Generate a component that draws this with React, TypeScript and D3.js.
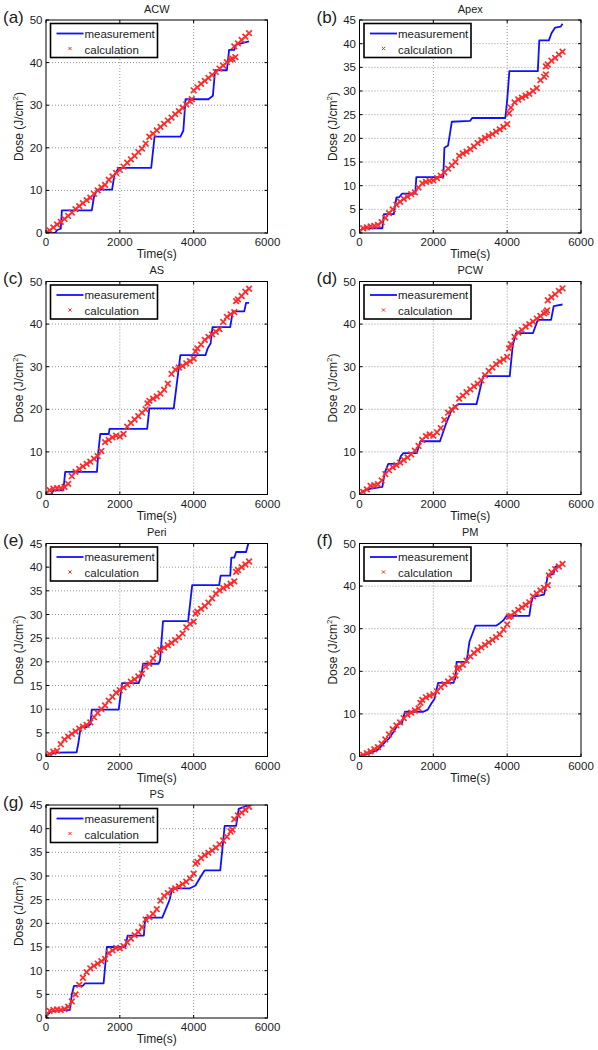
import React from "react";
import * as d3 from "d3";

// ---------- data ----------
const calcTimes = [0, 100, 200, 300, 400, 500, 600, 700, 800, 900, 1000, 1100, 1200, 1300, 1400, 1500, 1600, 1700, 1800, 1900, 2000, 2100, 2200, 2300, 2400, 2500, 2600, 2700, 2800, 2900, 3000, 3100, 3200, 3300, 3400, 3500, 3600, 3700, 3800, 3900, 4000, 4100, 4200, 4300, 4400, 4500, 4600, 4700, 4800, 4900, 5000, 5100, 5200, 5300, 5400, 5500];

const xTicks = [0, 2000, 4000, 6000];
const yTicks50 = [0, 10, 20, 30, 40, 50];
const yTicks45 = [0, 5, 10, 15, 20, 25, 30, 35, 40, 45];

// (a) ACW
const measA = [[0, 0], [250, 0], [300, 0.7], [400, 1], [430, 5.3], [1240, 5.3], [1300, 8.5], [1380, 10.2], [1790, 10.2], [1850, 13.5], [1970, 15.3], [2850, 15.3], [2940, 22.6], [3640, 22.6], [3720, 24], [3780, 31.4], [4400, 31.4], [4520, 32.2], [4580, 38.2], [4900, 38.2], [4960, 43], [5100, 43], [5150, 44.2], [5500, 45]];
const calcA = [0, 0.6, 1.3, 2.0, 2.6, 3.3, 4.0, 4.8, 5.6, 6.3, 7.0, 7.7, 8.3, 9.2, 10.0, 10.7, 11.3, 12.5, 13.3, 14.1, 14.8, 15.6, 16.5, 17.3, 18.1, 19.0, 19.8, 21.0, 22.6, 23.3, 24.1, 24.9, 25.6, 26.4, 27.1, 27.9, 28.6, 29.4, 30.2, 30.9, 33.5, 34.2, 35.0, 35.7, 36.4, 37.1, 37.8, 38.6, 39.3, 40.1, 40.7, 43.8, 44.5, 45.3, 46.1, 46.9];
const extraA = [[3950, 31.4], [5050, 40.9], [5130, 41.3]];

// (b) Apex
const measB = [[0, 0.3], [100, 1], [620, 1], [660, 4], [930, 4], [1000, 7.5], [1080, 7.6], [1150, 8.3], [1510, 8.3], [1540, 11.8], [2270, 11.8], [2300, 18], [2400, 18.5], [2500, 23.5], [3000, 23.7], [3050, 24.3], [3950, 24.3], [4000, 28], [4060, 34.2], [4830, 34.2], [4870, 40.7], [5130, 40.7], [5200, 42.2], [5300, 43.4], [5450, 43.6], [5500, 44.2]];
const calcB = [0.3, 1.0, 1.2, 1.4, 1.5, 1.7, 2.3, 3.2, 4.2, 5.0, 6.0, 6.6, 7.2, 7.7, 8.2, 8.6, 9.6, 10.5, 10.8, 11.0, 11.1, 11.6, 12.1, 12.8, 13.6, 14.3, 15.0, 16.3, 16.8, 17.2, 17.7, 18.3, 19.0, 19.6, 20.1, 20.5, 20.9, 21.4, 21.9, 22.4, 23.0, 26.5, 27.6, 28.2, 28.6, 29.0, 29.4, 30.0, 30.6, 32.3, 33.0, 35.6, 36.4, 37.0, 37.7, 38.3];
const extraB = [[4050, 25.3], [5050, 33.5], [5050, 35.2]];

// (c) AS
const measC = [[0, 0], [150, 0], [200, 1], [470, 1], [520, 5.3], [1380, 5.3], [1420, 10.2], [1470, 14.2], [1700, 14.2], [1720, 15.4], [2740, 15.4], [2800, 20.2], [3460, 20.2], [3640, 32.7], [4320, 32.7], [4380, 34.3], [4460, 35.5], [4510, 39.3], [4990, 39.3], [5060, 43], [5370, 43], [5420, 45], [5500, 45]];
const calcC = [0.3, 1.0, 1.4, 1.5, 1.5, 1.8, 2.5, 4.3, 5.3, 6.0, 6.6, 7.2, 7.7, 8.4, 9.0, 10.2, 12.3, 12.8, 13.4, 13.8, 13.6, 14.2, 15.9, 16.8, 17.6, 18.4, 19.2, 20.0, 22.0, 22.5, 23.0, 23.7, 24.6, 26.0, 28.3, 29.3, 29.8, 30.2, 30.8, 31.3, 31.9, 34.3, 35.2, 36.3, 37.0, 37.6, 38.2, 38.8, 40.5, 41.7, 42.3, 42.8, 45.8, 46.6, 47.6, 48.3];
const extraC = [[2750, 21.4], [4050, 33.6], [5150, 45.4]];

// (d) PCW
const measD = [[0, 0], [100, 0.8], [200, 1.2], [400, 1.5], [620, 1.8], [680, 5], [780, 7.2], [1050, 7.2], [1120, 9.0], [1190, 9.7], [1550, 9.7], [1650, 12.5], [2180, 12.5], [2360, 17], [2500, 20], [2670, 21.2], [3170, 21.2], [3350, 27.8], [4070, 27.8], [4150, 35], [4240, 37.9], [4700, 37.9], [4830, 41], [5190, 41], [5260, 44.2], [5500, 44.6]];
const calcD = [0, 0.6, 1.2, 2.0, 2.2, 2.4, 3.3, 4.8, 5.7, 6.4, 6.9, 7.5, 8.1, 8.7, 9.4, 10.3, 11.4, 12.8, 13.7, 14.1, 13.8, 14.6, 15.6, 17.5, 19.2, 19.9, 20.5, 22.5, 23.2, 24.0, 24.7, 25.4, 26.0, 26.8, 28.0, 29.0, 29.8, 30.6, 31.2, 31.7, 32.3, 35.3, 37.0, 38.0, 38.6, 39.4, 40.0, 40.6, 41.3, 41.9, 42.5, 45.6, 46.3, 47.0, 47.8, 48.4];
const extraD = [[4050, 34.3], [5050, 42.8], [5080, 43.2]];

// (e) Peri
const measE = [[0, 0.3], [300, 0.8], [830, 0.9], [880, 3], [940, 6.2], [1100, 6.2], [1200, 6.8], [1240, 9.9], [1970, 9.9], [2060, 15.5], [2510, 15.5], [2580, 17], [2630, 19.6], [3050, 19.6], [3090, 20.3], [3170, 28.6], [3850, 28.6], [3960, 36.2], [4690, 36.2], [4730, 38.2], [4990, 38.2], [5020, 42], [5100, 42], [5150, 43.2], [5420, 43.2], [5480, 45]];
const calcE = [0, 0.5, 1.0, 1.2, 2.6, 3.6, 4.2, 4.8, 5.3, 5.9, 6.3, 6.7, 7.2, 8.3, 9.2, 10.0, 10.8, 11.8, 12.6, 13.5, 14.0, 14.6, 15.2, 15.8, 16.3, 16.9, 17.5, 19.0, 19.6, 20.7, 22.0, 22.5, 23.0, 23.5, 24.0, 24.6, 25.2, 26.0, 27.3, 28.0, 28.5, 30.6, 31.2, 31.8, 32.5, 33.4, 34.4, 35.1, 35.6, 36.0, 36.5, 37.0, 39.4, 40.0, 40.6, 41.2];
const extraE = [[4050, 30.2], [5150, 39.0]];

// (f) PM
const measF = [[0, 0], [200, 0.5], [400, 1.2], [500, 1.6], [600, 2.5], [700, 3.5], [800, 4.2], [900, 5.5], [1050, 7.6], [1150, 7.8], [1230, 10.5], [1730, 10.5], [1850, 11], [1950, 12.5], [2030, 13.5], [2130, 17.3], [2550, 17.3], [2600, 18.5], [2630, 22.2], [2900, 22.2], [2980, 27], [3140, 30.7], [3700, 30.7], [3800, 31.3], [3900, 32], [3980, 33], [4600, 33], [4650, 36], [4700, 37.5], [4900, 37.8], [5000, 38], [5050, 40], [5100, 42.5], [5250, 42.8], [5300, 44.5], [5350, 44.8]];
const calcF = [0, 0.4, 0.8, 1.2, 1.7, 2.2, 3.0, 4.0, 5.2, 6.4, 7.3, 8.0, 9.0, 9.8, 10.3, 10.8, 11.3, 13.3, 13.9, 14.3, 14.6, 15.3, 16.3, 17.0, 17.6, 18.3, 19.0, 20.9, 21.5, 22.5, 23.5, 24.3, 25.0, 25.6, 26.2, 26.8, 27.4, 28.0, 28.7, 29.8, 31.0, 33.0, 33.7, 34.4, 35.0, 35.6, 36.2, 37.6, 38.3, 39.0, 39.6, 40.2, 43.3, 44.0, 44.6, 45.2];
const extraF = [[1650, 12.6], [2650, 20.6], [4050, 32.8], [5130, 42.5]];

// (g) PS
const measG = [[0, 0.3], [100, 1.2], [200, 1.5], [650, 1.7], [700, 5], [760, 6.8], [1000, 6.8], [1050, 7.3], [1560, 7.3], [1650, 15], [2150, 15], [2210, 17.4], [2650, 17.4], [2690, 21.2], [3150, 21.2], [3350, 25], [3420, 27.4], [3900, 27.4], [4050, 28], [4200, 30], [4300, 31.2], [4720, 31.2], [4840, 40.6], [5150, 40.6], [5220, 44.2], [5500, 45]];
const calcG = [0.3, 1.5, 1.7, 1.8, 1.7, 1.9, 2.4, 3.5, 5.0, 7.0, 8.5, 9.7, 10.5, 11.0, 11.5, 12.0, 12.5, 13.7, 14.3, 14.8, 14.7, 15.2, 16.0, 16.8, 17.5, 18.2, 19.2, 20.8, 21.3, 22.0, 23.0, 24.8, 25.8, 26.4, 27.0, 27.4, 27.8, 28.3, 28.8, 29.5, 30.5, 33.0, 33.8, 34.4, 34.9, 35.4, 36.0, 36.7, 37.5, 38.3, 39.4, 42.0, 42.8, 43.4, 44.0, 44.6];
const extraG = [[4050, 32.6], [5050, 39.8]];

const panelLabels = ["(a)", "(b)", "(c)", "(d)", "(e)", "(f)", "(g)"];
const panelTitles = ["ACW", "Apex", "AS", "PCW", "Peri", "PM", "PS"];
const panelYMax = [50, 45, 50, 50, 45, 50, 45];
const legendLabels = ["measurement", "calculation"];

const panels = [
  { meas: measA, calc: calcA, extra: extraA },
  { meas: measB, calc: calcB, extra: extraB },
  { meas: measC, calc: calcC, extra: extraC },
  { meas: measD, calc: calcD, extra: extraD },
  { meas: measE, calc: calcE, extra: extraE },
  { meas: measF, calc: calcF, extra: extraF },
  { meas: measG, calc: calcG, extra: extraG },
].map((p, i) => ({
  ...p,
  label: panelLabels[i],
  title: panelTitles[i],
  ymax: panelYMax[i],
  col: i % 2,
  row: Math.floor(i / 2),
}));

// ---------- layout ----------
const W = 598;
const H = 1050;
const colX = [46, 359.5];
const rowY = [20, 281.5, 543.5, 805];
const plotW = 221.5;
const plotH = 213;
const FONT = "'Liberation Sans', Arial, Helvetica, sans-serif";
const TXT = "#1c1c1c";
const BLUE = "#1010ff";
const RED = "#ff2a2a";

function Panel({ p, idx }: { p: any; idx: number }) {
  const x0 = colX[p.col];
  const y0 = rowY[p.row];
  const x = d3.scaleLinear().domain([0, 6000]).range([x0, x0 + plotW]);
  const y = d3.scaleLinear().domain([0, p.ymax]).range([y0 + plotH, y0]);
  const yTicks = p.ymax === 50 ? yTicks50 : yTicks45;
  const line = d3
    .line<number[]>()
    .x((d) => x(d[0]))
    .y((d) => y(d[1]));
  const calcPts: number[][] = calcTimes.map((t, i) => [t, p.calc[i]]).concat(p.extra);
  const clipId = `clip${idx}`;
  const ms = 2.8;
  const lgX = x0 + 4.5;
  const lgY = y0 + 3.5;
  return (
    <g>
      <defs>
        <clipPath id={clipId}>
          <rect x={x0} y={y0} width={plotW} height={plotH} />
        </clipPath>
      </defs>
      <rect x={x0} y={y0} width={plotW} height={plotH} fill="#fff" />
      {/* grid */}
      {xTicks.slice(1, -1).map((t) => (
        <line key={"gx" + t} x1={x(t)} x2={x(t)} y1={y0} y2={y0 + plotH} stroke="#8a8a8a" strokeWidth={0.9} strokeDasharray="1,2" />
      ))}
      {yTicks.slice(1, -1).map((t) => (
        <line key={"gy" + t} x1={x0} x2={x0 + plotW} y1={y(t)} y2={y(t)} stroke="#8a8a8a" strokeWidth={0.9} strokeDasharray="1,2" />
      ))}
      {/* data */}
      <g clipPath={`url(#${clipId})`}>
        <path d={line(p.meas) || ""} fill="none" stroke={BLUE} strokeWidth={1.8} strokeLinejoin="round" />
        {calcPts.map((d, i) => {
          const cx = x(d[0]);
          const cy = y(d[1]);
          return (
            <path
              key={i}
              d={`M${cx - ms},${cy - ms}L${cx + ms},${cy + ms}M${cx - ms},${cy + ms}L${cx + ms},${cy - ms}`}
              stroke={RED}
              strokeWidth={1.7}
              fill="none"
            />
          );
        })}
      </g>
      {/* frame */}
      <rect x={x0} y={y0} width={plotW} height={plotH} fill="none" stroke="#000" strokeWidth={1} />
      {/* ticks */}
      {xTicks.map((t) => (
        <g key={"tx" + t}>
          <line x1={x(t)} x2={x(t)} y1={y0 + plotH} y2={y0 + plotH - 3} stroke="#000" />
          <line x1={x(t)} x2={x(t)} y1={y0} y2={y0 + 3} stroke="#000" />
          <text x={x(t)} y={y0 + plotH + 13} textAnchor="middle" fontSize={11.5} fill={TXT} fontFamily={FONT}>
            {t}
          </text>
        </g>
      ))}
      {yTicks.map((t) => (
        <g key={"ty" + t}>
          <line x1={x0} x2={x0 + 3} y1={y(t)} y2={y(t)} stroke="#000" />
          <line x1={x0 + plotW} x2={x0 + plotW - 3} y1={y(t)} y2={y(t)} stroke="#000" />
          <text x={x0 - 3.5} y={y(t) + 4} textAnchor="end" fontSize={11.5} fill={TXT} fontFamily={FONT}>
            {t}
          </text>
        </g>
      ))}
      {/* legend */}
      <rect x={lgX} y={lgY} width={107} height={34} fill="#fff" stroke="#000" strokeWidth={1.6} />
      <line x1={lgX + 6} x2={lgX + 33} y1={lgY + 10} y2={lgY + 10} stroke={BLUE} strokeWidth={1.8} />
      <text x={lgX + 34} y={lgY + 14} fontSize={11.5} fill={TXT} fontFamily={FONT}>
        {legendLabels[0]}
      </text>
      <path
        d={`M${lgX + 19.5 - 1.6},${lgY + 25 - 1.6}L${lgX + 19.5 + 1.6},${lgY + 25 + 1.6}M${lgX + 19.5 - 1.6},${lgY + 25 + 1.6}L${lgX + 19.5 + 1.6},${lgY + 25 - 1.6}`}
        stroke={RED}
        strokeWidth={1}
      />
      <text x={lgX + 34} y={lgY + 30} fontSize={11.5} fill={TXT} fontFamily={FONT}>
        {legendLabels[1]}
      </text>
      {/* titles & labels */}
      <text x={x0 + plotW / 2} y={y0 - 7.5} textAnchor="middle" fontSize={11} fill={TXT} fontFamily={FONT}>
        {p.title}
      </text>
      <text x={x0 + plotW / 2} y={y0 + plotH + 25} textAnchor="middle" fontSize={12} fill={TXT} fontFamily={FONT}>
        Time(s)
      </text>
      <text
        transform={`translate(${x0 - 23},${y0 + plotH / 2}) rotate(-90)`}
        textAnchor="middle"
        fontSize={12}
        fill={TXT}
        fontFamily={FONT}
      >
        Dose (J/cm<tspan fontSize={8} dy={-5}>2</tspan>
        <tspan dy={5}>)</tspan>
      </text>
      <text x={x0 - 43} y={y0 + 2.5} fontSize={17} fill={TXT} fontFamily={FONT}>
        {p.label}
      </text>
    </g>
  );
}

export default function App() {
  return (
    <svg
      width={W}
      height={H}
      viewBox={`0 0 ${W} ${H}`}
      style={{ position: "absolute", left: 0, top: 0, background: "#fff" }}
    >
      <rect x={0} y={0} width={W} height={H} fill="#fff" />
      {panels.map((p, i) => (
        <Panel key={i} p={p} idx={i} />
      ))}
    </svg>
  );
}
